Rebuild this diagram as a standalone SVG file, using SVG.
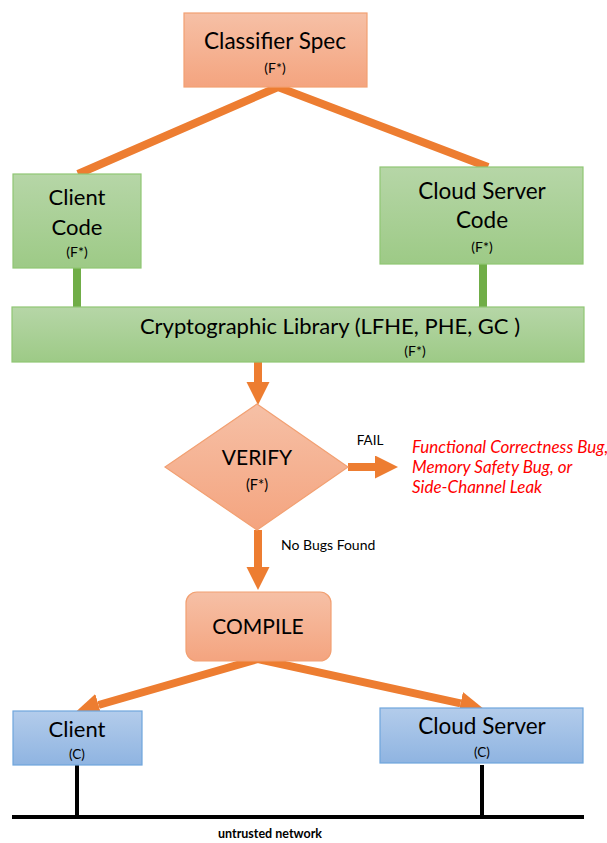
<svg xmlns="http://www.w3.org/2000/svg" width="607" height="843" viewBox="0 0 607 843">
<defs>
<linearGradient id="gOr" x1="0" y1="0" x2="0" y2="1"><stop offset="0" stop-color="#f6c0a6"/><stop offset="1" stop-color="#f4a47f"/></linearGradient>
<linearGradient id="gGr" x1="0" y1="0" x2="0" y2="1"><stop offset="0" stop-color="#b6d6a7"/><stop offset="1" stop-color="#9dca86"/></linearGradient>
<linearGradient id="gBl" x1="0" y1="0" x2="0" y2="1"><stop offset="0" stop-color="#b3cceb"/><stop offset="1" stop-color="#8fb4e1"/></linearGradient>
<marker id="ah" markerUnits="userSpaceOnUse" markerWidth="24" markerHeight="24" refX="0" refY="11.5" orient="auto-start-reverse" viewBox="0 0 24 24">
<path d="M0,0 L23,11.5 L0,23 z" fill="#ed7d31"/>
</marker>
<style>
.or{fill:url(#gOr);stroke:#f2a072;stroke-width:1.2}
.gr{fill:url(#gGr);stroke:#90c674;stroke-width:1.2}
.bl{fill:url(#gBl);stroke:#6fa6dd;stroke-width:1.2}
.t{font-family:Lato,"Liberation Sans",sans-serif;fill:#000;text-anchor:middle}
.s{font-size:14px}
.arr{fill:none;stroke:#ed7d31;stroke-width:8;stroke-linejoin:miter}
.gl{fill:#70ad47}
.net{stroke:#000;stroke-width:4}
</style>
</defs>

<g id="connectors">
<polyline class="arr" points="78,174 278,87 488,167"/>
<rect class="gl" x="73" y="268" width="8" height="40"/>
<rect class="gl" x="479" y="264" width="8" height="44"/>
<line class="arr" x1="258" y1="362" x2="258" y2="382" marker-end="url(#ah)"/>
<line class="arr" x1="348" y1="467" x2="375" y2="467" marker-end="url(#ah)"/>
<line class="arr" x1="258" y1="530" x2="258" y2="567" marker-end="url(#ah)"/>
<polyline class="arr" points="98.5,705 258,659 460.5,703.3" marker-start="url(#ah)" marker-end="url(#ah)"/>
<line class="net" x1="77" y1="765" x2="77" y2="817"/>
<line class="net" x1="482" y1="765" x2="482" y2="817"/>
<line class="net" x1="12" y1="817" x2="584" y2="817"/>
</g>

<g id="classifier-spec">
<rect class="or" x="184" y="13" width="183" height="74"/>
<text class="t" x="275" y="49" font-size="22.5">Classifier Spec</text>
<text class="t s" x="275" y="73">(F*)</text>
</g>

<g id="client-code">
<rect class="gr" x="13" y="174" width="128" height="94"/>
<text class="t" x="77" y="205" font-size="22">Client</text>
<text class="t" x="77" y="235" font-size="22">Code</text>
<text class="t s" x="77" y="257">(F*)</text>
</g>

<g id="cloud-server-code">
<rect class="gr" x="380" y="167" width="203" height="97"/>
<text class="t" x="482" y="199" font-size="22.5">Cloud Server</text>
<text class="t" x="482" y="228" font-size="22.5">Code</text>
<text class="t s" x="482" y="252">(F*)</text>
</g>

<g id="crypto-library">
<rect class="gr" x="12" y="307" width="572" height="55"/>
<text class="t" x="330" y="334" font-size="22">Cryptographic Library (LFHE, PHE, GC )</text>
<text class="t s" x="415" y="356">(F*)</text>
</g>

<g id="verify">
<polygon class="or" points="257,404 348,467 257,530 165,467"/>
<text class="t" x="257" y="465" font-size="21">VERIFY</text>
<text class="t" x="257" y="490" font-size="14.5">(F*)</text>
</g>

<g id="fail-label">
<text class="t" x="370" y="445" font-size="13.5">FAIL</text>
</g>

<g id="bugs">
<text font-family="Lato,'Liberation Sans',sans-serif" font-style="italic" font-size="17" fill="#ff0000">
<tspan x="412" y="453">Functional Correctness Bug,</tspan>
<tspan x="412" y="473">Memory Safety Bug, or</tspan>
<tspan x="412" y="493">Side-Channel Leak</tspan>
</text>
</g>

<g id="no-bugs-label">
<text class="t" x="281" y="550" font-size="14" style="text-anchor:start">No Bugs Found</text>
</g>

<g id="compile">
<rect class="or" x="186" y="592" width="145" height="69" rx="11"/>
<text class="t" x="258" y="634" font-size="21">COMPILE</text>
</g>

<g id="client">
<rect class="bl" x="13" y="711" width="129" height="54"/>
<text class="t" x="77" y="737" font-size="22">Client</text>
<text class="t" x="77" y="759" font-size="13.5">(C)</text>
</g>

<g id="cloud-server">
<rect class="bl" x="380" y="708" width="203" height="55"/>
<text class="t" x="482" y="734" font-size="22.5">Cloud Server</text>
<text class="t" x="482" y="757" font-size="13.5">(C)</text>
</g>

<g id="network-label">
<text class="t" x="270" y="838" font-size="12.5" font-weight="bold">untrusted network</text>
</g>
</svg>
